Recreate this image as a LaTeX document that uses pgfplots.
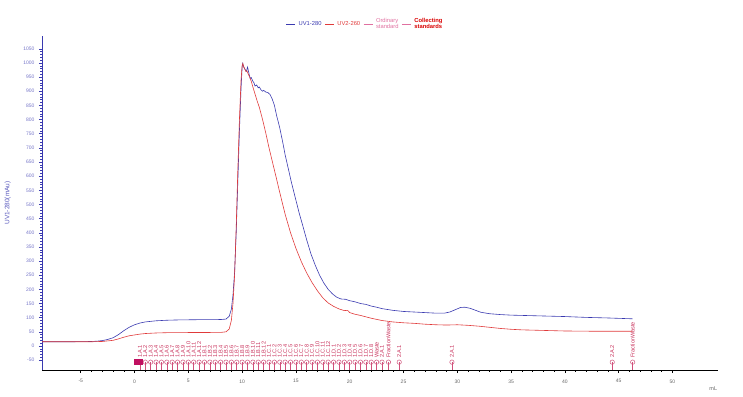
\documentclass[border=0pt]{standalone}
\usepackage{pgfplots}
\pgfplotsset{compat=1.18}
\usepackage{pgfplotstable}
\usepackage{fontspec}
\setmainfont{Liberation Sans}
\definecolor{uvblue}{HTML}{3A3AB0}
\definecolor{uvred}{HTML}{E03A3A}
\definecolor{fracpink}{HTML}{D0507A}
\definecolor{fraclab}{HTML}{C8305A}
\definecolor{ordpink}{HTML}{E070A0}
\definecolor{blob}{HTML}{C01060}

\pgfplotstableread{
x y
-8.6 15
-6 15
-4.5 15.5
-4 16
-3.5 17
-3 19
-2.5 23
-2 29
-1.5 40
-1 54
-0.5 66
0 75
0.5 81
1 85
1.5 87
2 89
3 91
4 92
5 92.5
6 93
7 93
8 93.5
8.5 95
8.8 105
9.0 130
9.15 180
9.3 260
9.45 400
9.6 580
9.75 760
9.9 910
10.0 985
10.05 998
10.12 990
10.2 982
10.3 975
10.4 970
10.5 985
10.55 978
10.65 960
10.75 945
10.85 948
11.0 935
11.1 930
11.2 918
11.35 922
11.5 912
11.6 915
11.75 905
11.9 900
12.0 903
12.2 897
12.4 895
12.6 888
12.8 872
13.0 850
13.2 815
13.5 770
13.8 715
14.0 675
14.3 625
14.6 575
15.0 515
15.3 470
15.6 430
16.0 375
16.4 325
16.8 285
17.2 250
17.6 222
18.0 200
18.4 184
18.8 172
19.2 166
19.6 165
20.0 160
20.5 156
21.0 150
21.5 147
22.0 141
22.5 137
23.0 132
23.5 129
24.0 126
25.0 122
26.0 120
27.0 118
28.0 116
28.8 116
29.3 120
29.8 128
30.3 136
30.7 137
31.2 133
31.7 126
32.2 119
33.0 114
34.0 111
35.0 109
36.0 108
38.0 106
40.0 104
42.0 101
44.0 99
46.3 96
}\uvone

\pgfplotstableread{
x y
-8.6 15
-4 15
-3 16
-2 20
-1.5 25
-1 31
-0.5 36
0 39
0.5 42
1 44
2 46
3 47
5 47.5
8 48
8.5 50
8.8 60
9.0 90
9.15 150
9.3 250
9.45 420
9.6 620
9.75 800
9.9 940
10.0 990
10.07 998
10.15 985
10.25 978
10.35 970
10.45 972
10.55 962
10.7 950
10.85 935
11.0 915
11.2 890
11.4 865
11.6 843
11.9 800
12.2 752
12.5 700
12.85 645
13.2 590
13.5 542
14.0 465
14.5 400
15.0 345
15.5 298
16.0 258
16.5 224
17.0 195
17.5 170
18.0 152
18.5 140
19.0 131
19.5 125
19.8 126
20.0 118
20.5 112
21.0 108
22.0 98
23.0 90
24.0 85
25.0 82
26.0 80
27.0 77
28.0 75
29.0 74
30.0 75
31.0 73
32.0 70
33.0 66
34.0 62
35.0 59
36.0 57
38.0 55
40.0 53
43.0 52
46.3 52
}\uvtwo

\pgfplotstableread{
x y lab
0.5 -57 1.A.1
1.0 -57 1.A.2
1.5 -57 1.A.3
2.0 -57 1.A.4
2.5 -57 1.A.5
3.0 -57 1.A.6
3.5 -57 1.A.7
4.0 -57 1.A.8
4.5 -57 1.A.9
5.0 -57 1.A.10
5.5 -57 1.A.11
6.0 -57 1.A.12
6.5 -57 1.B.1
7.0 -57 1.B.2
7.5 -57 1.B.3
8.0 -57 1.B.4
8.5 -57 1.B.5
9.0 -57 1.B.6
9.5 -57 1.B.7
10.0 -57 1.B.8
10.5 -57 1.B.9
11.0 -57 1.B.10
11.5 -57 1.B.11
12.0 -57 1.B.12
12.5 -57 1.C.1
13.0 -57 1.C.2
13.5 -57 1.C.3
14.0 -57 1.C.4
14.5 -57 1.C.5
15.0 -57 1.C.6
15.5 -57 1.C.7
16.0 -57 1.C.8
16.5 -57 1.C.9
17.0 -57 1.C.10
17.5 -57 1.C.11
18.0 -57 1.C.12
18.5 -57 1.D.1
19.0 -57 1.D.2
19.5 -57 1.D.3
20.0 -57 1.D.4
20.5 -57 1.D.5
21.0 -57 1.D.6
21.5 -57 1.D.7
22.0 -57 1.D.8
22.5 -57 Waste
23.0 -57 2.A.1
23.6 -57 FractionWaste
24.6 -57 2.A.1
29.5 -57 2.A.1
44.4 -57 2.A.2
46.3 -57 FractionWaste
}\fracs

\begin{document}
\begin{tikzpicture}
\begin{axis}[
  scale only axis,
  width=676pt, height=334pt,
  xmin=-8.6, xmax=54.23,
  ymin=-84.8, ymax=1095,
  axis x line=bottom, axis y line=left,
  axis line style={-},
  x axis line style={black, line width=0.9pt},
  y axis line style={uvblue, line width=0.9pt},
  xtick={-5,0,...,50},
  ytick={-50,0,...,1050},
  minor x tick num=4,
  minor y tick num=4,
  tick align=outside,
  major tick length=3pt,
  minor tick length=1.6pt,
  x tick style={black, line width=0.5pt},
  y tick style={uvblue, line width=0.4pt},
  /pgf/number format/assume math mode=true,
  /pgf/number format/1000 sep={},
  x tick label style={font=\fontsize{5}{6}\selectfont, text=gray!80!black, yshift=-3pt},
  y tick label style={font=\fontsize{5}{6}\selectfont, text=uvblue!70!white, xshift=-1pt},
  ylabel={UV1-280(mAu)},
  ylabel style={font=\fontsize{6.5}{7}\selectfont, text=uvblue!85!white, at={(axis description cs:-0.041,0.5)}, anchor=south},
  clip=false,
  legend columns=4,
  legend style={at={(rel axis cs:0.478,1.005)}, anchor=south, draw=none, fill=none,
    font=\fontsize{5.8}{6.2}\selectfont, column sep=1pt,
    /tikz/every even column/.append style={column sep=1pt}},
  legend image code/.code={\draw[#1, line width=0.8pt] (0pt,0pt) -- (9pt,0pt);},
]
\addplot[uvblue, line width=0.6pt] table[x=x,y=y] {\uvone};
\addlegendentry[text=uvblue]{UV1-280}
\addplot[uvred, line width=0.6pt] table[x=x,y=y] {\uvtwo};
\addlegendentry[text=uvred]{UV2-260}
\addlegendimage{ordpink}
\addlegendentry[text=ordpink, align=left]{Ordinary\\standard}
\addlegendimage{ordpink}
\addlegendentry[text=red!85!black, align=left, font=\fontsize{5.8}{6.2}\selectfont\bfseries]{Collecting\\standards}

% fraction stems and circles
\addplot[fracpink, only marks, mark=o, mark size=2.2pt, line width=0.5pt,
  error bars/.cd, y dir=minus, y fixed=27.8, error mark=none,
  error bar style={fracpink, line width=0.5pt}]
  table[x=x,y=y] {\fracs};
% fraction labels
\addplot[only marks, mark=none,
  nodes near coords, point meta=explicit symbolic,
  every node near coord/.append style={rotate=90, anchor=west, inner sep=0pt,
    font=\fontsize{5.6}{6}\selectfont, text=fraclab}]
  table[x=x, y expr=-43, meta=lab] {\fracs};
% stacked start markers
\addplot[blob, only marks, mark=square*, mark size=2.4pt]
  coordinates {(0.2,-56) (0.5,-56)};

\node[font=\fontsize{5.5}{6}\selectfont, text=gray!80!black] at (rel axis cs:0.993,-0.055) {mL};
\end{axis}
\path[use as bounding box] (-42pt,-26pt) rectangle (701pt,370pt);
\end{tikzpicture}
\end{document}
